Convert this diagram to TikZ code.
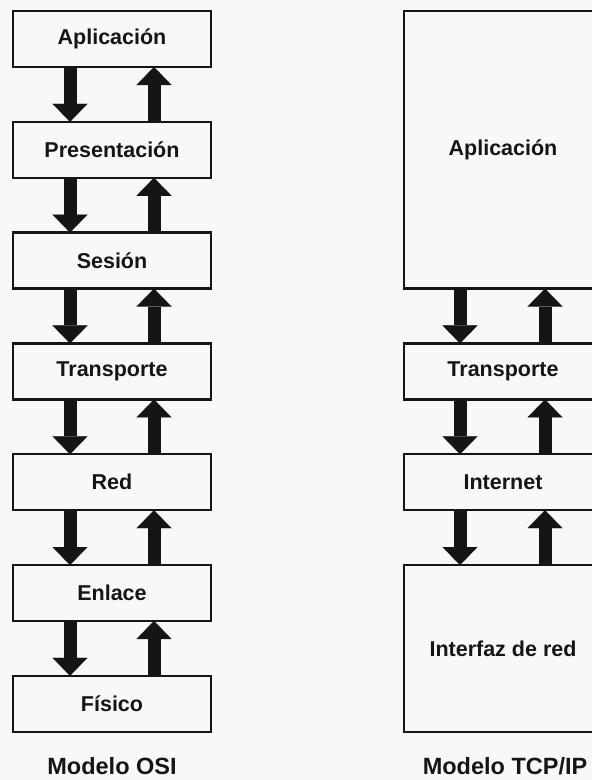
\documentclass[tikz,border=0pt]{standalone}
\usepackage{fontspec}
\setmainfont{Liberation Sans}
\usetikzlibrary{arrows.meta}
\definecolor{paper}{HTML}{F8F8F7}
\definecolor{ink}{HTML}{151515}
\begin{document}
\begin{tikzpicture}[x=1pt,y=-1pt,
  layerbox/.style={draw=ink, line width=2.5pt, outer sep=0pt, inner sep=0pt,
    minimum width=198pt, minimum height=56pt, anchor=north west,
    font=\fontsize{21.5}{24}\selectfont\bfseries, text=ink},
  flowarrow/.style={draw=ink, line width=13pt,
    -{Triangle[width=35pt,length=18pt,line width=0.1pt]}},
  caption/.style={font=\fontsize{23.5}{26}\selectfont\bfseries, text=ink,
    anchor=base, inner sep=0pt}]
\fill[paper] (0,0) rectangle (592,780);
\useasboundingbox (0,0) rectangle (592,780);
\clip (0,0) rectangle (592,780);
% OSI model
\node[layerbox] (o1) at (13,11) {Aplicación};
\node[layerbox] (o2) at (13,121.8) {Presentación};
\node[layerbox] (o3) at (13,232.6) {Sesión};
\node[layerbox] (o4) at (13,343.4) {Transporte};
\node[layerbox] (o5) at (13,454.2) {Red};
\node[layerbox] (o6) at (13,565) {Enlace};
\node[layerbox] (o7) at (13,675.8) {Físico};
\foreach \u/\l in {o1/o2,o2/o3,o3/o4,o4/o5,o5/o6,o6/o7}{
  \draw[flowarrow] ([xshift=-42pt]\u.south) -- ([xshift=-42pt]\l.north);
  \draw[flowarrow] ([xshift=42pt]\l.north) -- ([xshift=42pt]\u.south);
}
% TCP/IP model
\node[layerbox, minimum height=277.6pt] (t1) at (404,11) {Aplicación};
\node[layerbox] (t2) at (404,343.4) {Transporte};
\node[layerbox] (t3) at (404,454.2) {Internet};
\node[layerbox, minimum height=166.8pt] (t4) at (404,565) {Interfaz de red};
\foreach \u/\l in {t1/t2,t2/t3,t3/t4}{
  \draw[flowarrow] ([xshift=-43pt]\u.south) -- ([xshift=-43pt]\l.north);
  \draw[flowarrow] ([xshift=42pt]\l.north) -- ([xshift=42pt]\u.south);
}
% captions
\node[caption] (c1) at (112,774) {Modelo OSI};
\node[caption] (c2) at (505,774) {Modelo TCP/IP};
\end{tikzpicture}
\end{document}
